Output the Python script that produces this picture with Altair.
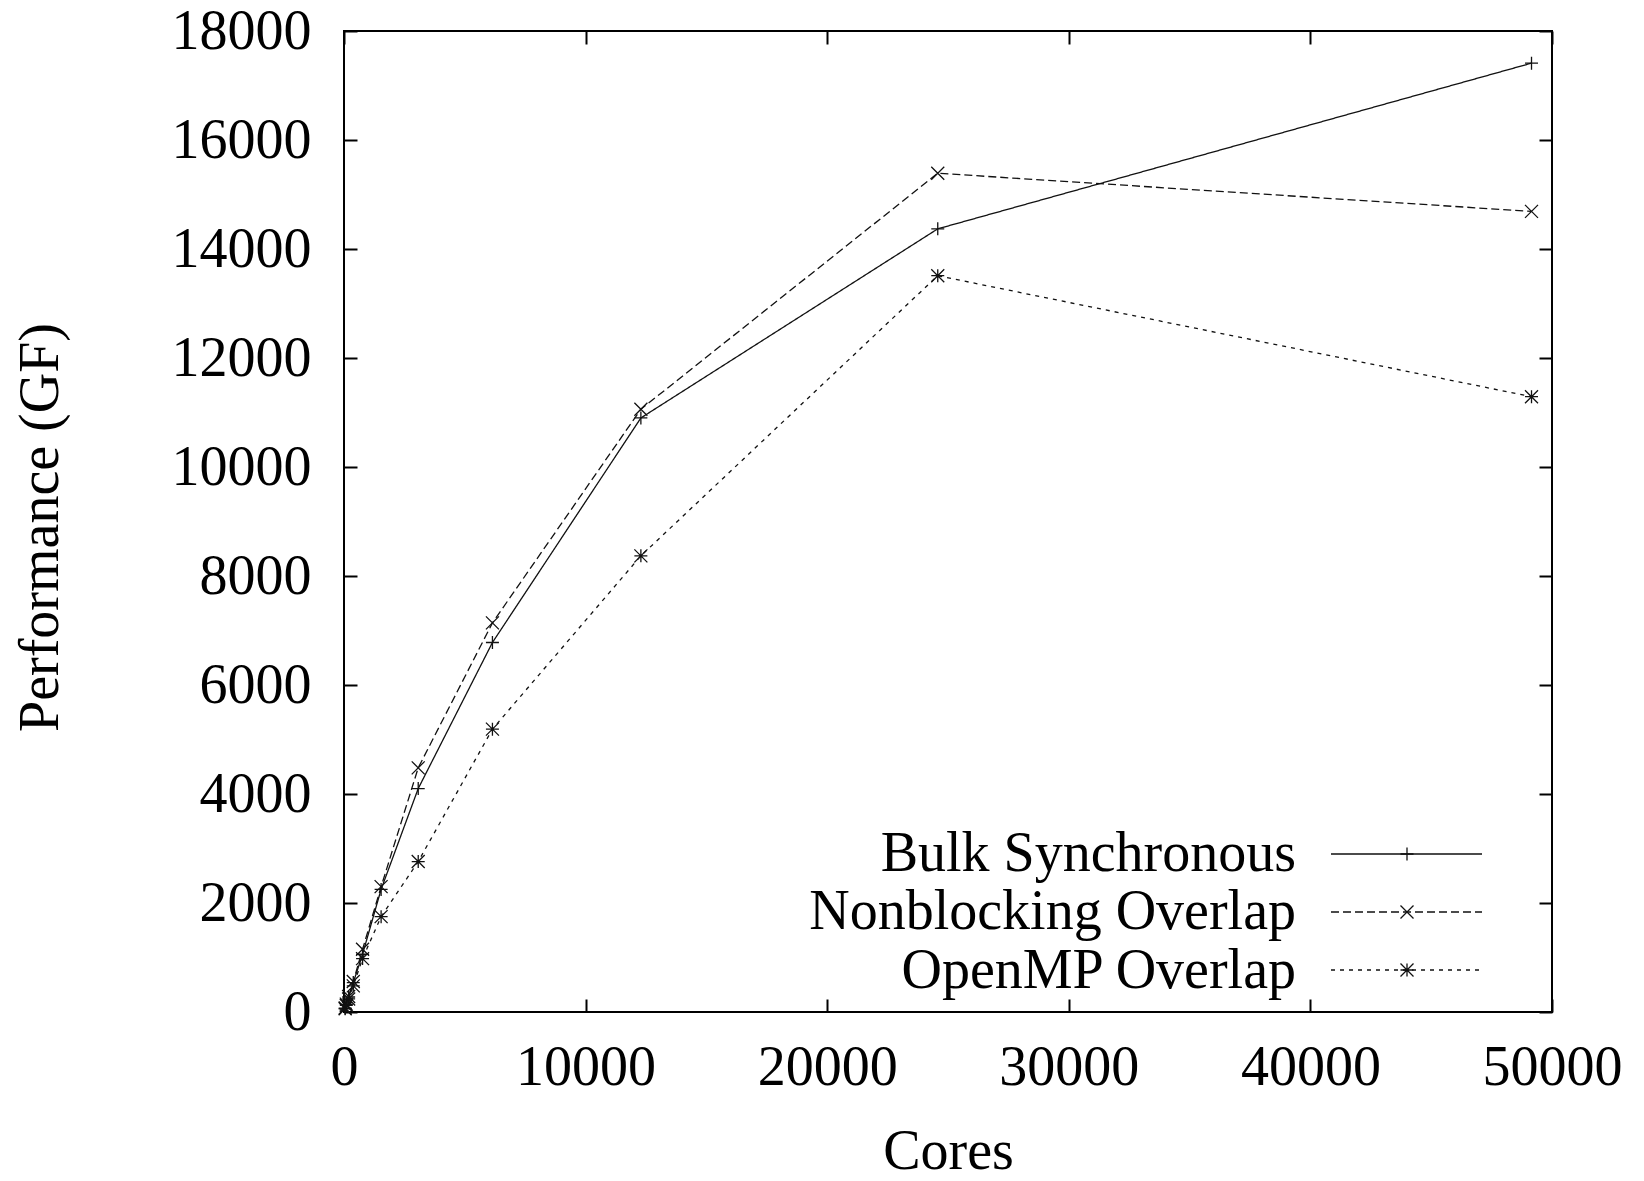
import altair as alt
import pandas as pd

# ---- data ----
cores = [48, 96, 192, 384, 768, 1536, 3072, 6144, 12288, 24576, 49152]
bulk = [70, 140, 275, 540, 1060, 2250, 4100, 6780, 10900, 14370, 17410]
nonblocking = [72, 145, 285, 560, 1150, 2300, 4480, 7140, 11060, 15390, 14690]
openmp = [60, 120, 240, 480, 980, 1750, 2760, 5190, 8370, 13510, 11290]
series_names = ["Bulk Synchronous", "Nonblocking Overlap", "OpenMP Overlap"]
x_ticks = [0, 10000, 20000, 30000, 40000, 50000]
y_ticks = [0, 2000, 4000, 6000, 8000, 10000, 12000, 14000, 16000, 18000]

# ---- styling ----
FONT = "Liberation Serif"
FS = 56
W, H = 1208, 981
T = 13
INK = "#111111"
dashes = [[1, 0], [8, 4], [4, 5]]
shapes = [
    "M-1,0L1,0M0,-1L0,1",
    "M-1,-1L1,1M-1,1L1,-1",
    "M-1,0L1,0M0,-1L0,1M-1,-1L1,1M-1,1L1,-1",
]
values = [bulk, nonblocking, openmp]

xs = alt.Scale(domain=[0, 50000], nice=False, zero=False)
ys = alt.Scale(domain=[0, 18000], nice=False, zero=False)

common = dict(tickSize=T, tickWidth=2, tickColor="black", domain=False, grid=False,
              labelFont=FONT, labelFontSize=FS, labelColor="black", labelFlush=False,
              titleFont=FONT, titleFontSize=FS, titleFontWeight="normal", titleColor="black")

x_axis = alt.Axis(values=x_ticks, format="d", orient="bottom", offset=-T, labelPadding=28,
                  title="Cores", titleX=W / 2, titleY=169, titleBaseline="alphabetic",
                  titleAlign="center", **common)
y_axis = alt.Axis(values=y_ticks, format="d", orient="left", offset=-T, labelPadding=33,
                  title="Performance (GF)", titleX=-317, titleY=496, titleAngle=-90,
                  titleBaseline="middle", titleAlign="center", **common)
x_top = alt.Axis(values=x_ticks, orient="top", offset=-T, labels=False, title=None,
                 tickSize=T, tickWidth=2, tickColor="black", domain=False, grid=False)
y_right = alt.Axis(values=y_ticks, orient="right", offset=-T, labels=False, title=None,
                   tickSize=T, tickWidth=2, tickColor="black", domain=False, grid=False)

layers = []
for i, name in enumerate(series_names):
    df = pd.DataFrame({"cores": cores, "perf": values[i], "series": name})
    base = alt.Chart(df).encode(
        x=alt.X("cores:Q", scale=xs, axis=x_axis),
        y=alt.Y("perf:Q", scale=ys, axis=y_axis),
    )
    layers.append(base.mark_line(color=INK, strokeWidth=1.3, strokeDash=dashes[i]))
    layers.append(base.mark_point(shape=shapes[i], filled=False, size=169,
                                  color=INK, strokeWidth=1.3, opacity=1))

# manual legend (gnuplot style: label, then sample line with marker)
leg_text_y = [840, 898, 957]
leg_line_y = [823, 881, 939]
for i, name in enumerate(series_names):
    ld = pd.DataFrame({"label": [name]})
    layers.append(alt.Chart(ld).mark_text(align="right", baseline="alphabetic", font=FONT,
                                          fontSize=FS, color="black").encode(
        x=alt.value(952), y=alt.value(leg_text_y[i]), text="label:N"))
    layers.append(alt.Chart(ld).mark_rule(color=INK, strokeWidth=1.3, strokeDash=dashes[i]).encode(
        x=alt.value(987), x2=alt.value(1138), y=alt.value(leg_line_y[i])))
    layers.append(alt.Chart(ld).mark_point(shape=shapes[i], filled=False, size=169,
                                           color=INK, strokeWidth=1.3, opacity=1).encode(
        x=alt.value(1063), y=alt.value(leg_line_y[i])))

inner = alt.layer(*layers)

mirror = alt.Chart(pd.DataFrame({"cores": cores, "perf": bulk})).mark_point(opacity=0).encode(
    x=alt.X("cores:Q", scale=xs, axis=x_top),
    y=alt.Y("perf:Q", scale=ys, axis=y_right),
)

chart = alt.layer(inner, mirror).resolve_scale(x="independent", y="independent").properties(
    width=W, height=H,
    padding={"left": 344, "top": 31, "right": 92, "bottom": 169},
    autosize=alt.AutoSizeParams(type="none"),
    background="white",
).configure_view(stroke="black", strokeWidth=2)

chart.save("out.html", embed_options={"renderer": "svg", "actions": False})
